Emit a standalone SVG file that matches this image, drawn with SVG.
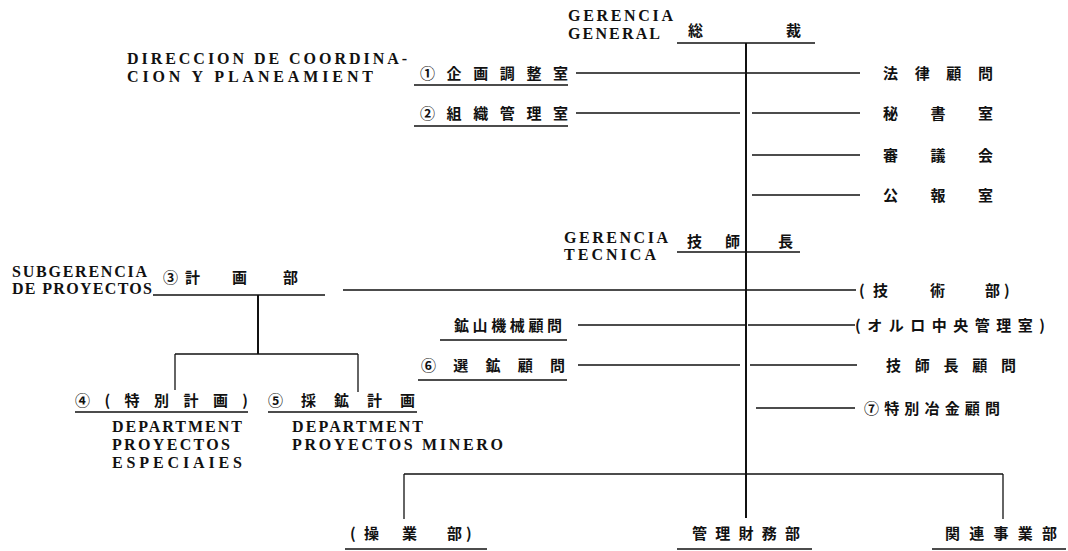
<svg xmlns="http://www.w3.org/2000/svg" width="1068" height="551" viewBox="0 0 1068 551">
<style>
.lat{font-family:"Liberation Serif","DejaVu Serif",serif;font-weight:bold;font-size:16px;fill:#111}
.cjk{font-family:"Noto Sans CJK JP","Noto Sans CJK SC",sans-serif;font-weight:bold;font-size:15px;fill:#111}
.ul{stroke:#111;stroke-width:1.3;fill:none}
.cn{stroke:#111;stroke-width:1.3;fill:none}
.main{stroke:#111;stroke-width:2;fill:none}
</style>
<rect width="1068" height="551" fill="#fff"/>
<g id="connectors">
<line class="cn" x1="677" y1="43" x2="815" y2="43"/>
<line class="main" x1="746" y1="43" x2="746" y2="518"/>
<line class="cn" x1="576" y1="73" x2="746" y2="73"/>
<line class="cn" x1="576" y1="113" x2="740" y2="113"/>
<line class="cn" x1="746" y1="73" x2="860" y2="73"/>
<line class="cn" x1="752" y1="113" x2="860" y2="113"/>
<line class="cn" x1="752" y1="155" x2="860" y2="155"/>
<line class="cn" x1="752" y1="195" x2="860" y2="195"/>
<line class="cn" x1="677" y1="252" x2="800" y2="252"/>
<line class="cn" x1="343" y1="290" x2="746" y2="290"/>
<line class="cn" x1="746" y1="290" x2="856" y2="290"/>
<line class="cn" x1="578" y1="325" x2="746" y2="325"/>
<line class="cn" x1="748" y1="325" x2="855" y2="325"/>
<line class="cn" x1="578" y1="365" x2="740" y2="365"/>
<line class="cn" x1="750" y1="365" x2="857" y2="365"/>
<line class="cn" x1="756" y1="408" x2="855" y2="408"/>
<line class="main" x1="258" y1="295" x2="258" y2="354"/>
<line class="cn" x1="175" y1="354" x2="358" y2="354"/>
<line class="cn" x1="175" y1="354" x2="175" y2="390"/>
<line class="cn" x1="358" y1="354" x2="358" y2="392"/>
<line class="cn" x1="404" y1="474" x2="1003" y2="474"/>
<line class="cn" x1="404" y1="474" x2="404" y2="519"/>
<line class="cn" x1="1003" y1="474" x2="1003" y2="519"/>
</g>
<g id="gerencia-general">
<text class="lat" x="568" y="21" textLength="105" lengthAdjust="spacing">GERENCIA</text>
<text class="lat" x="568" y="39" textLength="92" lengthAdjust="spacing">GENERAL</text>
<text class="cjk" x="688" y="36">総</text>
<text class="cjk" x="786" y="36">裁</text>
</g>
<g id="direccion">
<text class="lat" x="127" y="64" textLength="280" lengthAdjust="spacing">DIRECCION DE COORDINA-</text>
<text class="lat" x="127" y="82" textLength="246" lengthAdjust="spacing">CION Y PLANEAMIENT</text>
</g>
<g id="n1">
<text class="cjk" x="420" y="79" textLength="148" lengthAdjust="spacing">①企画調整室</text>
<line class="ul" x1="414" y1="85" x2="568" y2="85"/>
</g>
<g id="n2">
<text class="cjk" x="420" y="119" textLength="148" lengthAdjust="spacing">②組織管理室</text>
<line class="ul" x1="414" y1="126" x2="568" y2="126"/>
</g>
<g id="houritsu"><text class="cjk" x="883" y="79" textLength="110" lengthAdjust="spacing">法律顧問</text></g>
<g id="hisho"><text class="cjk" x="883" y="119" textLength="110" lengthAdjust="spacing">秘書室</text></g>
<g id="shingi"><text class="cjk" x="883" y="161" textLength="110" lengthAdjust="spacing">審議会</text></g>
<g id="kouhou"><text class="cjk" x="883" y="201" textLength="110" lengthAdjust="spacing">公報室</text></g>
<g id="gerencia-tecnica">
<text class="lat" x="564" y="243" textLength="104" lengthAdjust="spacing">GERENCIA</text>
<text class="lat" x="564" y="260" textLength="92" lengthAdjust="spacing">TECNICA</text>
<text class="cjk" x="687" y="247">技</text>
<text class="cjk" x="725" y="247">師</text>
<text class="cjk" x="778" y="247">長</text>
</g>
<g id="n3">
<text class="lat" x="12" y="277" textLength="135" lengthAdjust="spacing">SUBGERENCIA</text>
<text class="lat" x="12" y="294" textLength="140" lengthAdjust="spacing">DE PROYECTOS</text>
<text class="cjk" x="163 185 232 283" y="283">③計画部</text>
<line class="ul" x1="153" y1="295" x2="325" y2="295"/>
</g>
<g id="gijutsu"><text class="cjk" x="859 873 930 985 1004" y="296">(技術部)</text></g>
<g id="kouzan">
<text class="cjk" x="454" y="331" textLength="108" lengthAdjust="spacing">鉱山機械顧問</text>
<line class="ul" x1="440" y1="340" x2="567" y2="340"/>
</g>
<g id="oruro"><text class="cjk" x="855" y="331" textLength="190" lengthAdjust="spacing">(オルロ中央管理室)</text></g>
<g id="n6">
<text class="cjk" x="421" y="371" textLength="144" lengthAdjust="spacing">⑥選鉱顧問</text>
<line class="ul" x1="418" y1="380" x2="567" y2="380"/>
</g>
<g id="gishichou-komon"><text class="cjk" x="886" y="371" textLength="130" lengthAdjust="spacing">技師長顧問</text></g>
<g id="n7"><text class="cjk" x="864" y="414" textLength="136" lengthAdjust="spacing">⑦特別冶金顧問</text></g>
<g id="n4">
<text class="cjk" x="75" y="406" textLength="173" lengthAdjust="spacing">④(特別計画)</text>
<line class="ul" x1="75" y1="412" x2="248" y2="412"/>
<text class="lat" x="112" y="432" textLength="130" lengthAdjust="spacing">DEPARTMENT</text>
<text class="lat" x="112" y="450" textLength="118" lengthAdjust="spacing">PROYECTOS</text>
<text class="lat" x="112" y="468" textLength="130" lengthAdjust="spacing">ESPECIAIES</text>
</g>
<g id="n5">
<text class="cjk" x="268" y="406" textLength="147" lengthAdjust="spacing">⑤採鉱計画</text>
<line class="ul" x1="268" y1="412" x2="417" y2="412"/>
<text class="lat" x="292" y="432" textLength="131" lengthAdjust="spacing">DEPARTMENT</text>
<text class="lat" x="292" y="450" textLength="211" lengthAdjust="spacing">PROYECTOS MINERO</text>
</g>
<g id="sougyou">
<text class="cjk" x="350 364 402 447 466" y="539">(操業部)</text>
<line class="ul" x1="345" y1="549" x2="487" y2="549"/>
</g>
<g id="kanri">
<text class="cjk" x="692" y="539" textLength="108" lengthAdjust="spacing">管理財務部</text>
<line class="ul" x1="677" y1="549" x2="812" y2="549"/>
</g>
<g id="kanren">
<text class="cjk" x="945" y="539" textLength="112" lengthAdjust="spacing">関連事業部</text>
<line class="ul" x1="932" y1="549" x2="1066" y2="549"/>
</g>
</svg>
